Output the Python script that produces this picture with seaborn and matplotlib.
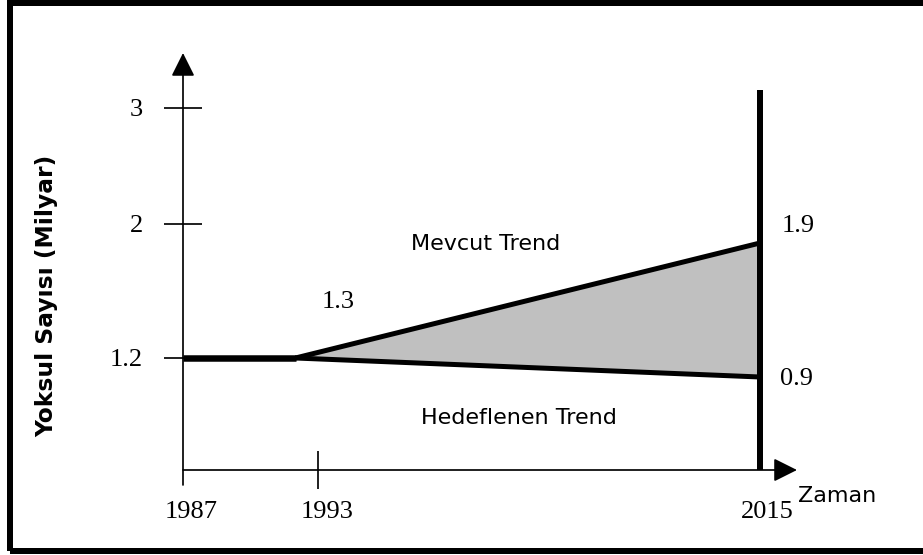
import numpy as np
import pandas as pd
import matplotlib
matplotlib.use("Agg")
import matplotlib.pyplot as plt
from matplotlib.patches import Rectangle
import seaborn as sns

# ---------------- data ----------------
years_axis = [1987, 1993, 2015]            # labelled years on the time axis
y_ticks = [1.2, 2, 3]                       # labelled values on the vertical axis
y_tick_labels = ["1.2", "2", "3"]
flat_years = [1987, 1992]                   # flat period before the split
flat_values = [1.2, 1.2]
trend_years = [1992, 2015]
current_trend = [1.2, 1.9]                  # "Mevcut Trend"
target_trend = [1.2, 0.9]                   # "Hedeflenen Trend"
start_label = "1.3"
end_current_label = "1.9"
end_target_label = "0.9"

# schematic (non-linear) scale anchors: value -> figure pixel
W, H = 923, 555
x_anchor_vals = [1987, 1993, 2015]
x_anchor_px = [183, 318, 760]
y_anchor_vals = [0.0, 0.9, 1.2, 1.9, 2.0, 3.0]
y_anchor_px = [470, 377, 358, 243, 224, 108]   # from top


def piecewise(xs, ys):
    xs = np.asarray(xs, float)
    ys = np.asarray(ys, float)

    def f(v):
        v = np.asarray(v, float)
        out = np.interp(v, xs, ys)
        out = np.where(v < xs[0], ys[0] + (v - xs[0]) * (ys[1] - ys[0]) / (xs[1] - xs[0]), out)
        out = np.where(v > xs[-1], ys[-1] + (v - xs[-1]) * (ys[-1] - ys[-2]) / (xs[-1] - xs[-2]), out)
        return out
    return f


y_up = [H - p for p in y_anchor_px]
fx, ix = piecewise(x_anchor_vals, x_anchor_px), piecewise(x_anchor_px, x_anchor_vals)
fy, iy = piecewise(y_anchor_vals, y_up), piecewise(y_up, y_anchor_vals)

sns.set_theme(style="white")
plt.rcParams["font.family"] = ["DejaVu Sans"]

DPI = 100
PT = 72.0 / DPI  # points per pixel
fig = plt.figure(figsize=(W / DPI, H / DPI), dpi=DPI)
ax = fig.add_axes([0, 0, 1, 1])

# outer frame
fig.patches.append(Rectangle((10 / W, (H - 551) / H), (940 - 10) / W, (551 - 3) / H,
                             transform=fig.transFigure, fill=False,
                             edgecolor="black", lw=6 * PT, zorder=0))

# filled gap between trends
ax.fill_between(trend_years, target_trend, current_trend, color="#c0c0c0", lw=0, zorder=1)

# flat line and trend lines
sns.lineplot(x=flat_years, y=flat_values, color="black", lw=6.5 * PT, ax=ax,
             solid_capstyle="butt", zorder=3, sort=False, estimator=None)
sns.lineplot(x=trend_years, y=current_trend, color="black", lw=5 * PT, ax=ax,
             solid_capstyle="butt", zorder=3, sort=False, estimator=None)
sns.lineplot(x=trend_years, y=target_trend, color="black", lw=5 * PT, ax=ax,
             solid_capstyle="butt", zorder=3, sort=False, estimator=None)

# vertical bar at the final year
y_bar_top = 3.155
ax.plot([years_axis[-1], years_axis[-1]], [0, y_bar_top], color="black",
        lw=6 * PT, solid_capstyle="butt", zorder=4)

# axes with arrow heads
axis_lw = 1.7 * PT
arrow = dict(arrowstyle="-|>,head_length=0.4,head_width=0.2", mutation_scale=36,
             color="black", lw=axis_lw, shrinkA=0, shrinkB=0)
ax.annotate("", xy=(years_axis[0], 3.474), xytext=(years_axis[0], -0.145),
            arrowprops=arrow, zorder=2)
ax.annotate("", xy=(2016.84, 0), xytext=(years_axis[0], 0), arrowprops=arrow, zorder=2)

# tick marks
ax.plot([years_axis[0]] * len(y_ticks), y_ticks, ls="none", marker="_",
        ms=38 * PT, mew=axis_lw, color="black", zorder=2)
ax.plot([years_axis[1]], [0], ls="none", marker="|", ms=38 * PT, mew=axis_lw,
        color="black", zorder=2)

serif = dict(family=["Liberation Serif", "DejaVu Serif"], size=19, color="black")
sans = dict(family=["DejaVu Sans"], size=16, color="black")

for v, lab in zip(y_ticks, y_tick_labels):
    ax.annotate(lab, xy=(years_axis[0], v), xytext=(-40, -8.5), textcoords="offset pixels",
                ha="right", va="baseline", **serif)
for yr, dx in zip(years_axis, [8, 9, 7]):
    ax.annotate(str(yr), xy=(yr, 0), xytext=(dx, -48), textcoords="offset pixels",
                ha="center", va="baseline", **serif)

ax.annotate(end_current_label, xy=(trend_years[-1], current_trend[-1]), xytext=(22, 11),
            textcoords="offset pixels", ha="left", va="baseline", **serif)
ax.annotate(end_target_label, xy=(trend_years[-1], target_trend[-1]), xytext=(20, -8),
            textcoords="offset pixels", ha="left", va="baseline", **serif)


def ftext(px, py, s, **kw):
    fig.text(px / W, 1 - py / H, s, **kw)


ftext(338, 308, start_label, ha="center", va="baseline", **serif)
ftext(486, 250, "Mevcut Trend", ha="center", va="baseline", **sans)
ftext(519, 424, "Hedeflenen Trend", ha="center", va="baseline", **sans)
ftext(798, 502, "Zaman", ha="left", va="baseline", **sans)
ftext(47, 296, "Yoksul Sayısı (Milyar)", ha="center", va="center", rotation=90,
      family=["DejaVu Sans"], size=16.8, weight="bold", color="black")

ax.set_xscale("function", functions=(fx, ix))
ax.set_yscale("function", functions=(fy, iy))
ax.set_xlim(float(ix(0)), float(ix(W)))
ax.set_ylim(float(iy(0)), float(iy(H)))
ax.set_axis_off()

fig.savefig("out.png", dpi=DPI, facecolor="white")
